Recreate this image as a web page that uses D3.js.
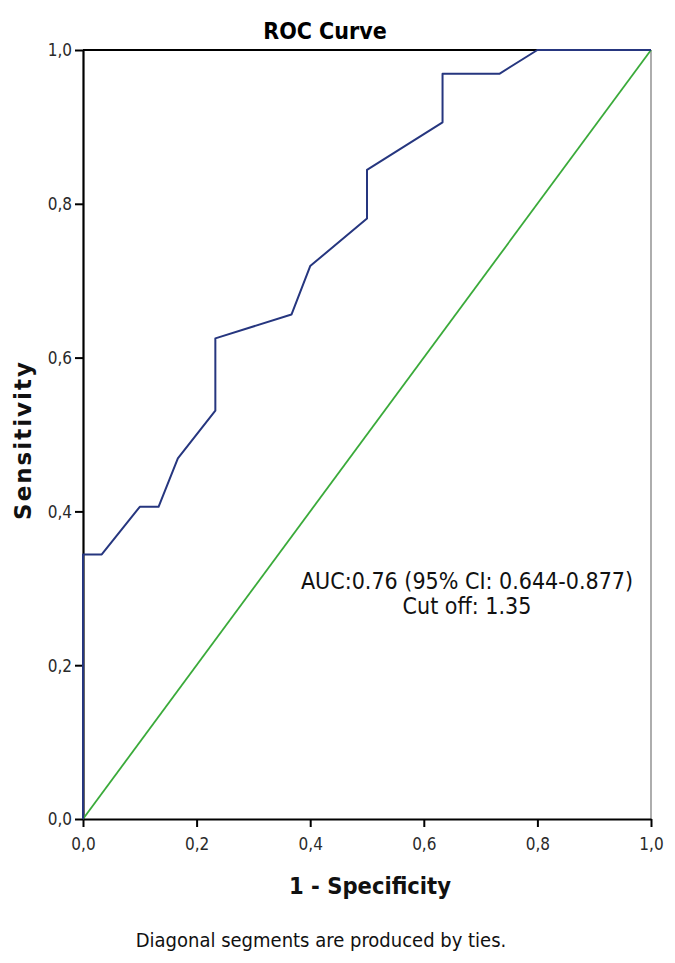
<!DOCTYPE html>
<html>
<head>
<meta charset="utf-8">
<script src="https://cdn.jsdelivr.net/npm/d3@7"></script>
<style>
  body { margin: 0; background: #fff; }
  text { font-family: "DejaVu Sans Condensed", "DejaVu Sans", sans-serif; }
</style>
</head>
<body>
<svg id="chart" width="675" height="963"></svg>
<script>
// ROC points
const fpr = [0, 0, 0.033, 0.1, 0.133, 0.167, 0.233, 0.233, 0.367, 0.4, 0.5, 0.5, 0.633, 0.633, 0.733, 0.8, 1];
const tpr = [0, 0.344, 0.344, 0.406, 0.406, 0.469, 0.531, 0.625, 0.656, 0.719, 0.781, 0.844, 0.906, 0.969, 0.969, 1, 1];
const refLine = [0, 1];
const tickValues = [0, 0.2, 0.4, 0.6, 0.8, 1];
const annotation = ["AUC:0.76 (95% CI: 0.644-0.877)", "Cut off: 1.35"];

const svg = d3.select("#chart");
const area = { left: 83, right: 651, top: 50, bottom: 819 };

const x = d3.scaleLinear().domain([0, 1]).range([area.left, area.right]);
const y = d3.scaleLinear().domain([0, 1]).range([area.bottom, area.top]);
const fmt = d => d3.format(".1f")(d).replace(".", ",");

// frame
svg.append("line")
    .attr("x1", area.right).attr("x2", area.right)
    .attr("y1", area.top).attr("y2", area.bottom)
    .attr("stroke", "#777").attr("stroke-width", 1.2);
svg.append("line")
    .attr("x1", area.left).attr("x2", area.right)
    .attr("y1", area.top).attr("y2", area.top)
    .attr("stroke", "#000").attr("stroke-width", 2);

// axes
const axisX = svg.append("g")
    .attr("transform", `translate(0, ${area.bottom})`)
    .call(d3.axisBottom(x).tickValues(tickValues).tickFormat(fmt).tickSize(8).tickSizeOuter(0));
const axisY = svg.append("g")
    .attr("transform", `translate(${area.left}, 0)`)
    .call(d3.axisLeft(y).tickValues(tickValues).tickFormat(fmt).tickSize(8).tickSizeOuter(0));

[axisX, axisY].forEach(a => {
    a.select(".domain").attr("stroke", "#000").attr("stroke-width", 2.2);
    a.selectAll(".tick line").attr("stroke", "#000").attr("stroke-width", 2);
    a.selectAll(".tick text")
        .attr("fill", "#2a2a2a")
        .style("font-size", "17px")
        .style("font-family", '"DejaVu Sans Condensed", sans-serif');
});
axisX.selectAll(".tick text").attr("dy", "1.2em");
axisY.selectAll(".tick text").attr("dy", "0.35em").attr("x", -11);

// reference diagonal
svg.append("line")
    .attr("x1", x(refLine[0])).attr("y1", y(refLine[0]))
    .attr("x2", x(refLine[1])).attr("y2", y(refLine[1]))
    .attr("stroke", "#3aaa3a").attr("stroke-width", 1.8);

// ROC curve
const rocData = fpr.map((d, i) => ({ fx: d, ty: tpr[i] }));
svg.append("path")
    .datum(rocData)
    .attr("fill", "none")
    .attr("stroke", "#26367f")
    .attr("stroke-width", 2)
    .attr("stroke-linejoin", "round")
    .attr("d", d3.line().x(d => x(d.fx)).y(d => y(d.ty)));

// titles
svg.append("text")
    .attr("x", 325).attr("y", 39)
    .attr("text-anchor", "middle")
    .style("font-size", "23px").style("font-weight", "bold")
    .text("ROC Curve");

svg.append("text")
    .attr("x", 370).attr("y", 894)
    .attr("text-anchor", "middle")
    .style("font-size", "23.5px").style("font-weight", "bold")
    .attr("fill", "#111")
    .text("1 - Specificity");

svg.append("text")
    .attr("transform", "translate(31, 440) rotate(-90)")
    .attr("text-anchor", "middle")
    .style("font-family", '"DejaVu Sans", sans-serif')
    .style("font-size", "23px").style("font-weight", "bold")
    .style("letter-spacing", "2px")
    .attr("fill", "#111")
    .text("Sensitivity");

svg.append("text")
    .attr("x", 321).attr("y", 947)
    .attr("text-anchor", "middle")
    .style("font-size", "20px")
    .attr("fill", "#111")
    .text("Diagonal segments are produced by ties.");

svg.selectAll(".note")
    .data(annotation)
    .enter()
    .append("text")
    .attr("class", "note")
    .attr("x", 467)
    .attr("y", (d, i) => 589 + i * 25)
    .attr("text-anchor", "middle")
    .style("font-size", "23px")
    .attr("fill", "#111")
    .text(d => d);
</script>
</body>
</html>
